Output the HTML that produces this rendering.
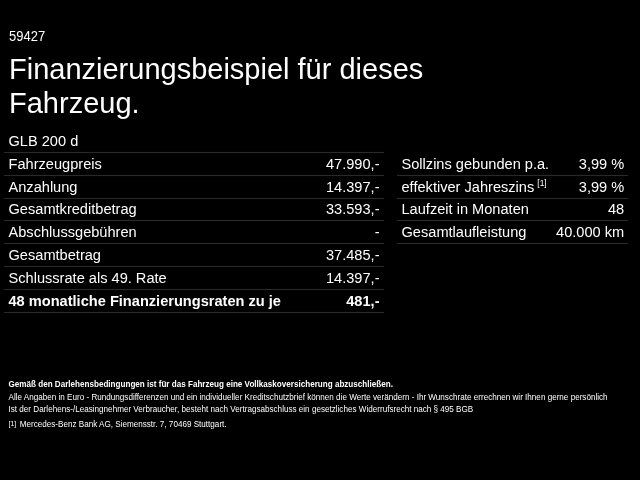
<!DOCTYPE html>
<html lang="de">
<head>
<meta charset="utf-8">
<title>Finanzierungsbeispiel</title>
<style>
html,body{margin:0;padding:0;}
body{width:640px;height:480px;background:#000;color:#fff;font-family:"Liberation Sans",Arial,Helvetica,sans-serif;position:relative;overflow:hidden;}
#w{position:absolute;left:0;top:0;width:640px;height:480px;background:#000;filter:grayscale(1);}
.a{position:absolute;white-space:nowrap;}
.t{position:absolute;white-space:nowrap;font-size:14.6px;line-height:20px;transform:scaleY(1.06);transform-origin:0 15.06px;}
.r{text-align:right;}
.b{font-weight:bold;}
.ln{position:absolute;height:1px;background:#2a2a2a;box-shadow:0 0 1px #1a1a1a;}
sup{font-size:8.5px;line-height:0;vertical-align:0;position:relative;top:-6.5px;margin-left:3px;}
.fn{display:inline-block;width:11.2px;font-size:7px;position:relative;top:-1.3px;}
</style>
</head>
<body>
<div id="w">
<div class="a" style="left:9px;top:29.0px;font-size:13px;line-height:15px;transform:scaleY(1.06);transform-origin:0 12.0px;">59427</div>
<div class="a" style="left:9px;top:51.95px;font-size:29px;line-height:34px;transform:scaleY(1.0);transform-origin:0 27.05px;">Finanzierungsbeispiel für dieses</div>
<div class="a" style="left:9px;top:85.95px;font-size:29px;line-height:34px;transform:scaleY(1.0);transform-origin:0 27.05px;">Fahrzeug.</div>
<div class="a" style="left:8.5px;top:130.54px;font-size:14.6px;line-height:20px;transform:scaleY(1.06);transform-origin:0 15.06px;">GLB 200 d</div>
<div class="ln" style="left:4px;top:152px;width:380px"></div>
<div class="ln" style="left:4px;top:175px;width:380px"></div>
<div class="ln" style="left:4px;top:198px;width:380px"></div>
<div class="ln" style="left:4px;top:220px;width:380px"></div>
<div class="ln" style="left:4px;top:243px;width:380px"></div>
<div class="ln" style="left:4px;top:266px;width:380px"></div>
<div class="ln" style="left:4px;top:289px;width:380px"></div>
<div class="ln" style="left:4px;top:312px;width:380px"></div>
<div class="ln" style="left:397px;top:175px;width:231px"></div>
<div class="ln" style="left:397px;top:198px;width:231px"></div>
<div class="ln" style="left:397px;top:220px;width:231px"></div>
<div class="ln" style="left:397px;top:243px;width:231px"></div>
<div class="t" style="left:8.5px;top:153.74px">Fahrzeugpreis</div>
<div class="t r" style="right:260.5px;top:153.74px">47.990,-</div>
<div class="t" style="left:8.5px;top:176.64px">Anzahlung</div>
<div class="t r" style="right:260.5px;top:176.64px">14.397,-</div>
<div class="t" style="left:8.5px;top:199.44px">Gesamtkreditbetrag</div>
<div class="t r" style="right:260.5px;top:199.44px">33.593,-</div>
<div class="t" style="left:8.5px;top:222.04px">Abschlussgebühren</div>
<div class="t r" style="right:260.5px;top:222.04px">-</div>
<div class="t" style="left:8.5px;top:245.14px">Gesamtbetrag</div>
<div class="t r" style="right:260.5px;top:245.14px">37.485,-</div>
<div class="t" style="left:8.5px;top:268.04px">Schlussrate als 49. Rate</div>
<div class="t r" style="right:260.5px;top:268.04px">14.397,-</div>
<div class="t b" style="left:8.5px;top:290.94px">48 monatliche Finanzierungsraten zu je</div>
<div class="t r b" style="right:260.5px;top:290.94px">481,-</div>
<div class="t" style="left:401.5px;top:153.74px">Sollzins gebunden p.a.</div>
<div class="t r" style="right:15.8px;top:153.74px">3,99 %</div>
<div class="t" style="left:401.5px;top:176.64px">effektiver Jahreszins<sup>[1]</sup></div>
<div class="t r" style="right:15.8px;top:176.64px">3,99 %</div>
<div class="t" style="left:401.5px;top:199.44px">Laufzeit in Monaten</div>
<div class="t r" style="right:15.8px;top:199.44px">48</div>
<div class="t" style="left:401.5px;top:222.04px">Gesamtlaufleistung</div>
<div class="t r" style="right:15.8px;top:222.04px">40.000 km</div>
<div class="a" style="left:8.5px;top:379.79px;font-size:8.1px;line-height:10px;transform:scaleY(1.06);transform-origin:0 7.81px;font-weight:bold">Gemäß den Darlehensbedingungen ist für das Fahrzeug eine Vollkaskoversicherung abzuschließen.</div>
<div class="a" style="left:8.5px;top:392.99px;font-size:8.12px;line-height:10px;transform:scaleY(1.06);transform-origin:0 7.81px;">Alle Angaben in Euro - Rundungsdifferenzen und ein individueller Kreditschutzbrief können die Werte verändern - Ihr Wunschrate errechnen wir Ihnen gerne persönlich</div>
<div class="a" style="left:8.5px;top:404.79px;font-size:8.12px;line-height:10px;transform:scaleY(1.06);transform-origin:0 7.81px;">Ist der Darlehens-/Leasingnehmer Verbraucher, besteht nach Vertragsabschluss ein gesetzliches Widerrufsrecht nach § 495 BGB</div>
<div class="a" style="left:8.5px;top:419.99px;font-size:8.12px;line-height:10px;transform:scaleY(1.06);transform-origin:0 7.81px;"><span class="fn">[1]</span>Mercedes-Benz Bank AG, Siemensstr. 7, 70469 Stuttgart.</div>
</div>
</body>
</html>
